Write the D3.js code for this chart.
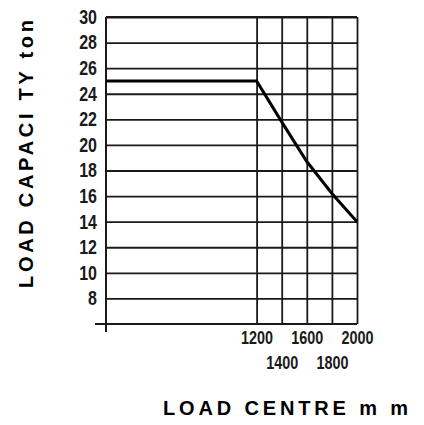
<html lang="en">
<head>
    <meta charset="UTF-8">
    <title>Load capacity</title>
    <script src="https://d3js.org/d3.v7.min.js"></script>
    <style>
        body { margin: 0; background: #fff; }
        .tick text { font-family: "Liberation Sans", Arial, sans-serif; font-weight: bold; fill: #1a1a1a; }
        .title { font-family: "Liberation Sans", Arial, sans-serif; font-weight: bold; font-size: 20px; fill: #000; }
    </style>
</head>
<body>
<div id="chart"></div>
<script>
    // data
    var loadCentre = [0, 1200, 1400, 1600, 1800, 2000];
    var capacity = [25, 25, 21.8, 18.7, 16.2, 14];
    var yTicks = [8, 10, 12, 14, 16, 18, 20, 22, 24, 26, 28, 30];
    var xTicks = [1200, 1400, 1600, 1800, 2000];

    var W = 424, H = 425;
    var mLeft = 106, mRight = 357, mTop = 17, mBottom = 324;
    var squeeze = 0.8; // the drawing uses narrow digits

    var x = d3.scaleLinear().domain([0, 2000]).range([mLeft, mRight]);
    var y = d3.scaleLinear().domain([6, 30]).range([mBottom, mTop]);

    var svg = d3.select("#chart").append("svg")
        .attr("width", W)
        .attr("height", H);

    var ink = "#1a1a1a";

    // horizontal grid + y labels
    var gy = svg.append("g")
        .attr("transform", "translate(" + mLeft + ",0)")
        .call(d3.axisLeft(y).tickValues(yTicks).tickFormat(d3.format("d"))
            .tickSize(-(mRight - mLeft)).tickPadding(9));
    gy.select(".domain").remove();
    gy.selectAll(".tick line").attr("stroke", ink).attr("stroke-width", 1.8);
    gy.selectAll(".tick text")
        .style("font-size", "20px")
        .attr("x", -9 / squeeze)
        .attr("transform", "scale(" + squeeze + ",1)");

    // vertical grid + x labels (two staggered rows)
    var gx = svg.append("g")
        .attr("transform", "translate(0," + mBottom + ")")
        .call(d3.axisBottom(x).tickValues(xTicks).tickFormat(d3.format("d"))
            .tickSize(-(mBottom - mTop)).tickPadding(0));
    gx.select(".domain").remove();
    gx.selectAll(".tick line").attr("stroke", ink).attr("stroke-width", 1.8);
    gx.selectAll(".tick text")
        .style("font-size", "18px")
        .attr("dy", null)
        .attr("transform", "scale(" + squeeze + ",1)")
        .attr("y", function (d, i) { return i % 2 === 0 ? 20 : 45; });

    // axes lines
    svg.append("line")
        .attr("x1", mLeft - 11).attr("x2", mRight)
        .attr("y1", y(6)).attr("y2", y(6))
        .attr("stroke", ink).attr("stroke-width", 2);
    svg.append("line")
        .attr("x1", mLeft).attr("x2", mLeft)
        .attr("y1", y(30)).attr("y2", y(6) + 8)
        .attr("stroke", ink).attr("stroke-width", 2);
    svg.append("line")
        .attr("x1", mLeft).attr("x2", mRight)
        .attr("y1", y(30)).attr("y2", y(30))
        .attr("stroke", ink).attr("stroke-width", 2);

    // capacity curve
    var pts = loadCentre.map(function (d, i) { return [d, capacity[i]]; });
    svg.append("path")
        .datum(pts)
        .attr("fill", "none")
        .attr("stroke", "#000")
        .attr("stroke-width", 3)
        .attr("d", d3.line()
            .x(function (d) { return x(d[0]); })
            .y(function (d) { return y(d[1]); }));

    // titles
    svg.append("text")
        .attr("class", "title")
        .attr("x", 163).attr("y", 415)
        .attr("textLength", 245)
        .attr("lengthAdjust", "spacing")
        .text("LOAD CENTRE m m");

    svg.append("text")
        .attr("class", "title")
        .attr("transform", "translate(33,288) rotate(-90)")
        .attr("textLength", 268)
        .attr("lengthAdjust", "spacing")
        .text("LOAD CAPACI TY ton");
</script>
</body>
</html>
